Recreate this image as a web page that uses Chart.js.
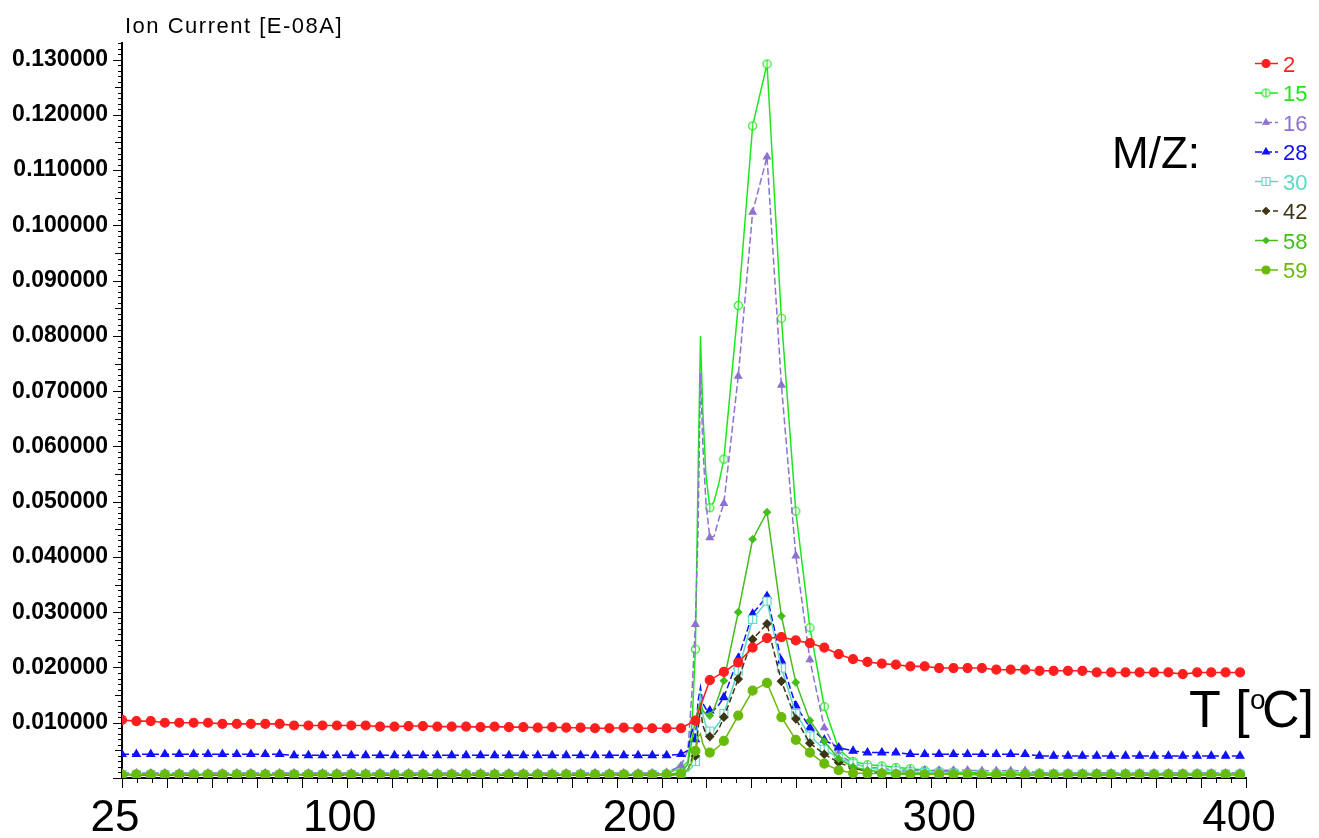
<!DOCTYPE html>
<html>
<head>
<meta charset="utf-8">
<title>Ion Current vs T</title>
<script src="https://cdn.jsdelivr.net/npm/chart.js@4.4.0/dist/chart.umd.min.js"></script>
<style>
  html, body { margin: 0; padding: 0; background: #fff; }
  canvas { display: block; }
</style>
</head>
<body>
<canvas id="msChart" width="1319" height="838"></canvas>
<script>
// temperature of every marked sample, degC
const temps = [25.0, 29.8, 34.6, 39.3, 44.1, 48.9, 53.7, 58.5, 63.3, 68.0,
  72.8, 77.6, 82.4, 87.2, 91.9, 96.7, 101.5, 106.3, 111.1, 115.9,
  120.6, 125.4, 130.2, 135.0, 139.8, 144.6, 149.3, 154.1, 158.9, 163.7,
  168.5, 173.2, 178.0, 182.8, 187.6, 192.4, 197.2, 201.9, 206.7, 211.5,
  216.3, 221.1, 225.8, 230.6, 235.4, 240.2, 245.0, 249.8, 254.5, 259.3,
  264.1, 268.9, 273.7, 278.5, 283.2, 288.0, 292.8, 297.6, 302.4, 307.1,
  311.9, 316.7, 321.5, 326.3, 331.1, 335.8, 340.6, 345.4, 350.2, 355.0,
  359.8, 364.5, 369.3, 374.1, 378.9, 383.7, 388.4, 393.2, 398.0];

// extra readings inside the sharp burst (line only, no marker)
const burstTemps = [213.8, 215.2, 217.2, 218.0, 218.8, 219.8, 222.5, 224.2];

const mz2 = [0.0105, 0.0103, 0.0103, 0.0100, 0.0100, 0.0100, 0.0100, 0.0098, 0.0098, 0.0098,
  0.0098, 0.0098, 0.0095, 0.0095, 0.0095, 0.0095, 0.0095, 0.0095, 0.0093, 0.0093,
  0.0094, 0.0094, 0.0093, 0.0093, 0.0093, 0.0092, 0.0093, 0.0092, 0.0092, 0.0091,
  0.0092, 0.0091, 0.0091, 0.0090, 0.0090, 0.0091, 0.0090, 0.0090, 0.0090, 0.0090,
  0.0104, 0.0177, 0.0192, 0.0209, 0.0236, 0.0253, 0.0255, 0.0249, 0.0244, 0.0236,
  0.0224, 0.0215, 0.0210, 0.0207, 0.0205, 0.0202, 0.0202, 0.0199, 0.0199, 0.0199,
  0.0199, 0.0196, 0.0196, 0.0196, 0.0194, 0.0194, 0.0194, 0.0194, 0.0191, 0.0191,
  0.0191, 0.0191, 0.0191, 0.0191, 0.0188, 0.0191, 0.0191, 0.0191, 0.0191];
const mz2Burst = [null, null, null, null, null, null, null, null];

const mz15 = [0.0007, 0.0007, 0.0007, 0.0007, 0.0007, 0.0007, 0.0007, 0.0007, 0.0007, 0.0007,
  0.0007, 0.0007, 0.0007, 0.0007, 0.0007, 0.0007, 0.0007, 0.0007, 0.0007, 0.0007,
  0.0007, 0.0007, 0.0007, 0.0007, 0.0007, 0.0007, 0.0007, 0.0007, 0.0007, 0.0007,
  0.0007, 0.0007, 0.0007, 0.0007, 0.0007, 0.0007, 0.0007, 0.0007, 0.0008, 0.0018,
  0.0233, 0.0489, 0.0577, 0.0855, 0.1180, 0.1292, 0.0832, 0.0483, 0.0272, 0.0129,
  0.0052, 0.0030, 0.0024, 0.0022, 0.0019, 0.0017, 0.0014, 0.0012, 0.0011, 0.0010,
  0.0009, 0.0009, 0.0009, 0.0009, 0.0009, 0.0008, 0.0008, 0.0008, 0.0008, 0.0008,
  0.0008, 0.0008, 0.0008, 0.0008, 0.0008, 0.0008, 0.0008, 0.0008, 0.0008];
const mz15Burst = [0.0030, 0.0100, 0.0550, 0.0800, 0.0660, 0.0550, 0.0500, 0.0535];

const mz16 = [0.0009, 0.0009, 0.0009, 0.0009, 0.0009, 0.0009, 0.0009, 0.0009, 0.0009, 0.0009,
  0.0009, 0.0009, 0.0009, 0.0009, 0.0009, 0.0009, 0.0009, 0.0009, 0.0009, 0.0009,
  0.0009, 0.0009, 0.0009, 0.0009, 0.0009, 0.0009, 0.0009, 0.0009, 0.0009, 0.0009,
  0.0009, 0.0009, 0.0009, 0.0009, 0.0009, 0.0009, 0.0009, 0.0009, 0.0010, 0.0022,
  0.0278, 0.0435, 0.0497, 0.0727, 0.1024, 0.1124, 0.0711, 0.0402, 0.0214, 0.0091,
  0.0043, 0.0026, 0.0020, 0.0017, 0.0015, 0.0014, 0.0014, 0.0014, 0.0014, 0.0014,
  0.0013, 0.0013, 0.0013, 0.0013, 0.0009, 0.0009, 0.0009, 0.0009, 0.0009, 0.0009,
  0.0009, 0.0009, 0.0009, 0.0009, 0.0009, 0.0009, 0.0009, 0.0009, 0.0009];
const mz16Burst = [0.0050, 0.0160, 0.0450, 0.0733, 0.0600, 0.0500, 0.0437, 0.0470];

const mz28 = [0.0043, 0.0043, 0.0043, 0.0043, 0.0043, 0.0043, 0.0043, 0.0043, 0.0043, 0.0043,
  0.0043, 0.0043, 0.0041, 0.0041, 0.0041, 0.0041, 0.0041, 0.0041, 0.0041, 0.0041,
  0.0041, 0.0041, 0.0041, 0.0041, 0.0041, 0.0041, 0.0041, 0.0041, 0.0041, 0.0041,
  0.0041, 0.0041, 0.0041, 0.0041, 0.0041, 0.0041, 0.0041, 0.0041, 0.0041, 0.0043,
  0.0070, 0.0122, 0.0146, 0.0217, 0.0297, 0.0329, 0.0212, 0.0131, 0.0091, 0.0069,
  0.0055, 0.0049, 0.0046, 0.0046, 0.0046, 0.0043, 0.0043, 0.0043, 0.0043, 0.0043,
  0.0043, 0.0043, 0.0043, 0.0043, 0.0040, 0.0040, 0.0040, 0.0040, 0.0040, 0.0040,
  0.0040, 0.0040, 0.0040, 0.0040, 0.0040, 0.0040, 0.0040, 0.0040, 0.0040];
const mz28Burst = [0.0050, 0.0090, 0.0140, 0.0164, 0.0135, 0.0125, 0.0123, 0.0133];

const mz30 = [0.0006, 0.0006, 0.0006, 0.0006, 0.0006, 0.0006, 0.0006, 0.0006, 0.0006, 0.0006,
  0.0006, 0.0006, 0.0006, 0.0006, 0.0006, 0.0006, 0.0006, 0.0006, 0.0006, 0.0006,
  0.0006, 0.0006, 0.0006, 0.0006, 0.0006, 0.0006, 0.0006, 0.0006, 0.0006, 0.0006,
  0.0006, 0.0006, 0.0006, 0.0006, 0.0006, 0.0006, 0.0006, 0.0006, 0.0006, 0.0009,
  0.0030, 0.0085, 0.0117, 0.0194, 0.0287, 0.0320, 0.0199, 0.0117, 0.0076, 0.0052,
  0.0036, 0.0026, 0.0019, 0.0015, 0.0013, 0.0011, 0.0010, 0.0009, 0.0009, 0.0008,
  0.0007, 0.0007, 0.0007, 0.0007, 0.0007, 0.0007, 0.0007, 0.0007, 0.0007, 0.0007,
  0.0007, 0.0007, 0.0007, 0.0007, 0.0007, 0.0007, 0.0007, 0.0007, 0.0007];
const mz30Burst = [0.0012, 0.0020, 0.0110, 0.0150, 0.0115, 0.0095, 0.0088, 0.0100];

const mz42 = [0.0005, 0.0005, 0.0005, 0.0005, 0.0005, 0.0005, 0.0005, 0.0005, 0.0005, 0.0005,
  0.0005, 0.0005, 0.0005, 0.0005, 0.0005, 0.0005, 0.0005, 0.0005, 0.0005, 0.0005,
  0.0005, 0.0005, 0.0005, 0.0005, 0.0005, 0.0005, 0.0005, 0.0005, 0.0005, 0.0005,
  0.0005, 0.0005, 0.0005, 0.0005, 0.0005, 0.0005, 0.0005, 0.0005, 0.0005, 0.0007,
  0.0040, 0.0075, 0.0110, 0.0179, 0.0251, 0.0279, 0.0175, 0.0107, 0.0063, 0.0043,
  0.0028, 0.0018, 0.0012, 0.0010, 0.0008, 0.0008, 0.0007, 0.0007, 0.0007, 0.0007,
  0.0006, 0.0006, 0.0006, 0.0006, 0.0006, 0.0006, 0.0006, 0.0006, 0.0006, 0.0006,
  0.0006, 0.0006, 0.0006, 0.0006, 0.0006, 0.0006, 0.0006, 0.0006, 0.0006];
const mz42Burst = [0.0015, 0.0035, 0.0090, 0.0125, 0.0095, 0.0080, 0.0077, 0.0090];

const mz58 = [0.0006, 0.0006, 0.0006, 0.0006, 0.0006, 0.0006, 0.0006, 0.0006, 0.0006, 0.0006,
  0.0006, 0.0006, 0.0006, 0.0006, 0.0006, 0.0006, 0.0006, 0.0006, 0.0006, 0.0006,
  0.0006, 0.0006, 0.0006, 0.0006, 0.0006, 0.0006, 0.0006, 0.0006, 0.0006, 0.0006,
  0.0006, 0.0006, 0.0006, 0.0006, 0.0006, 0.0006, 0.0006, 0.0006, 0.0006, 0.0010,
  0.0105, 0.0113, 0.0176, 0.0300, 0.0432, 0.0481, 0.0293, 0.0173, 0.0104, 0.0066,
  0.0035, 0.0020, 0.0014, 0.0011, 0.0009, 0.0008, 0.0008, 0.0007, 0.0007, 0.0007,
  0.0006, 0.0006, 0.0006, 0.0006, 0.0006, 0.0006, 0.0006, 0.0006, 0.0006, 0.0006,
  0.0006, 0.0006, 0.0006, 0.0006, 0.0006, 0.0006, 0.0006, 0.0006, 0.0006];
const mz58Burst = [0.0025, 0.0070, 0.0125, 0.0135, 0.0122, 0.0115, 0.0125, 0.0150];

const mz59 = [0.0006, 0.0006, 0.0006, 0.0006, 0.0006, 0.0006, 0.0006, 0.0006, 0.0006, 0.0006,
  0.0006, 0.0006, 0.0006, 0.0006, 0.0006, 0.0006, 0.0006, 0.0006, 0.0006, 0.0006,
  0.0006, 0.0006, 0.0006, 0.0006, 0.0006, 0.0006, 0.0006, 0.0006, 0.0006, 0.0006,
  0.0006, 0.0006, 0.0006, 0.0006, 0.0006, 0.0006, 0.0006, 0.0006, 0.0006, 0.0008,
  0.0049, 0.0046, 0.0067, 0.0113, 0.0158, 0.0172, 0.0110, 0.0069, 0.0046, 0.0026,
  0.0014, 0.0009, 0.0008, 0.0008, 0.0007, 0.0007, 0.0007, 0.0007, 0.0007, 0.0007,
  0.0006, 0.0006, 0.0006, 0.0006, 0.0006, 0.0006, 0.0006, 0.0006, 0.0006, 0.0006,
  0.0006, 0.0006, 0.0006, 0.0006, 0.0006, 0.0006, 0.0006, 0.0006, 0.0006];
const mz59Burst = [0.0015, 0.0030, 0.0075, 0.0080, 0.0062, 0.0050, 0.0050, 0.0058];

const xLabels = [25, 100, 200, 300, 400];
const yLabels = [0.01, 0.02, 0.03, 0.04, 0.05, 0.06, 0.07, 0.08, 0.09, 0.10, 0.11, 0.12, 0.13];

const FONT = '"Liberation Sans", Arial, sans-serif';

// small open markers with a bar through them
function barredMarker(color, square) {
  const c = document.createElement('canvas');
  c.width = 11; c.height = 11;
  const g = c.getContext('2d');
  g.fillStyle = '#fff';
  g.strokeStyle = color;
  g.lineWidth = 1.2;
  g.beginPath();
  if (square) g.rect(1.5, 1.5, 8, 8);
  else g.arc(5.5, 5.5, 4, 0, Math.PI * 2);
  g.fill();
  g.stroke();
  g.beginPath();
  g.moveTo(5.5, square ? 2 : 1);
  g.lineTo(5.5, square ? 9 : 10);
  g.stroke();
  return c;
}

// draw: lower value = painted later (on top)
const series = [
  { label: '2',  values: mz2,  burst: mz2Burst,  color: '#ff1e1e', fill: '#ff1e1e', point: 'circle', radius: 4.5, width: 1.6, dash: [], draw: 0 },
  { label: '15', values: mz15, burst: mz15Burst, color: '#1ee61e', fill: '#fff', point: barredMarker('#1ee61e', false), radius: 4.5, width: 1.5, dash: [], draw: 7 },
  { label: '16', values: mz16, burst: mz16Burst, color: '#8e72d0', fill: '#8e72d0', point: 'triangle', radius: 4, width: 1.5, dash: [7, 3], draw: 6 },
  { label: '28', values: mz28, burst: mz28Burst, color: '#1010ff', fill: '#1010ff', point: 'triangle', radius: 4.5, width: 1.5, dash: [7, 3], draw: 5 },
  { label: '30', values: mz30, burst: mz30Burst, color: '#5cd8c4', fill: '#fff', point: barredMarker('#5cd8c4', true), radius: 4.5, width: 1.5, dash: [], draw: 4 },
  { label: '42', values: mz42, burst: mz42Burst, color: '#3f3515', fill: '#3f3515', point: 'rectRot', radius: 4, width: 1.5, dash: [6, 3], draw: 3 },
  { label: '58', values: mz58, burst: mz58Burst, color: '#44bd1e', fill: '#44bd1e', point: 'rectRot', radius: 3.5, width: 1.5, dash: [], draw: 2 },
  { label: '59', values: mz59, burst: mz59Burst, color: '#6aba0a', fill: '#6aba0a', point: 'circle', radius: 4.5, width: 1.5, dash: [], draw: 1 }
];

function buildPoints(values, burst) {
  const pts = temps.map((t, i) => ({ x: t, y: values[i], marked: true }));
  burstTemps.forEach((t, j) => pts.push({ x: t, y: burst[j], marked: false }));
  return pts.sort((a, b) => a.x - b.x);
}

// minor/major tick marks on both axes
const axisTicks = {
  id: 'axisTicks',
  afterDraw(chart) {
    const { ctx, chartArea } = chart;
    const x = chart.scales.x, y = chart.scales.y;
    ctx.save();
    ctx.strokeStyle = '#000';
    ctx.lineWidth = 1;
    ctx.beginPath();
    for (let t = 25; t <= 400; t += 5) {
      const px = Math.round(x.getPixelForValue(t)) + 0.5;
      const len = (t - 25) % 15 === 0 ? 10 : 5;
      ctx.moveTo(px, chartArea.bottom);
      ctx.lineTo(px, chartArea.bottom + len);
    }
    for (let k = 0; k <= 133; k++) {
      const py = Math.round(y.getPixelForValue(k / 1000)) + 0.5;
      const len = k % 10 === 0 ? 9 : (k % 5 === 0 ? 7 : 4);
      ctx.moveTo(chartArea.left - len, py);
      ctx.lineTo(chartArea.left, py);
    }
    ctx.stroke();
    ctx.restore();
  }
};

// axis captions and the m/z key on the right
const captions = {
  id: 'captions',
  afterDraw(chart) {
    const ctx = chart.ctx;
    ctx.save();
    ctx.fillStyle = '#000';
    ctx.textBaseline = 'alphabetic';
    ctx.textAlign = 'left';

    ctx.font = '22px ' + FONT;
    ctx.letterSpacing = '1.5px';
    ctx.fillText('Ion Current [E-08A]', 125, 33);
    ctx.letterSpacing = '0px';

    ctx.font = '44px ' + FONT;
    ctx.fillText('M/Z:', 1112, 168);

    ctx.font = '52px ' + FONT;
    ctx.fillText('T [', 1189, 727);
    ctx.font = '28px ' + FONT;
    ctx.fillText('o', 1250, 709);
    ctx.font = '52px ' + FONT;
    ctx.fillText('C]', 1262, 727);

    ctx.font = '22px ' + FONT;
    series.forEach((s, i) => {
      const cy = 63.5 + i * 29.5;
      ctx.strokeStyle = s.color;
      ctx.lineWidth = 1.5;
      ctx.setLineDash(s.dash);
      ctx.beginPath();
      ctx.moveTo(1255, cy);
      ctx.lineTo(1278, cy);
      ctx.stroke();
      ctx.setLineDash([]);
      ctx.fillStyle = s.fill;
      ctx.strokeStyle = s.color;
      ctx.lineWidth = 1.2;
      Chart.helpers.drawPoint(ctx, { pointStyle: s.point, radius: s.radius - 0.5, borderWidth: 1.2, rotation: 0 }, 1266, cy);
      ctx.fillStyle = s.color;
      ctx.fillText(s.label, 1283, cy + 8);
    });
    ctx.restore();
  }
};

new Chart(document.getElementById('msChart'), {
  type: 'line',
  data: {
    datasets: series.map(s => ({
      label: s.label,
      order: s.draw,
      data: buildPoints(s.values, s.burst),
      borderColor: s.color,
      backgroundColor: s.fill,
      borderWidth: s.width,
      borderDash: s.dash,
      pointStyle: s.point,
      pointRadius: ctx => (ctx.raw && ctx.raw.marked ? s.radius : 0),
      pointBorderColor: s.color,
      pointBackgroundColor: s.fill,
      pointBorderWidth: 1.2,
      spanGaps: true,
      tension: 0,
      fill: false
    }))
  },
  options: {
    responsive: false,
    animation: false,
    devicePixelRatio: 1,
    layout: { padding: { top: 43, right: 73, left: 0, bottom: 0 } },
    plugins: { legend: { display: false }, tooltip: { enabled: false } },
    scales: {
      x: {
        type: 'linear',
        min: 25,
        max: 400,
        afterBuildTicks: s => { s.ticks = xLabels.map(v => ({ value: v })); },
        afterFit: s => { s.height = 60; },
        grid: { display: false, drawTicks: false },
        border: { display: true, color: '#000', width: 2 },
        ticks: {
          color: '#000',
          font: { family: FONT, size: 44 },
          padding: 14,
          labelOffset: -7,
          maxRotation: 0,
          autoSkip: false
        }
      },
      y: {
        min: 0,
        max: 0.133,
        afterBuildTicks: s => { s.ticks = yLabels.map(v => ({ value: v })); },
        afterFit: s => { s.width = 122; },
        grid: { display: false, drawTicks: false },
        border: { display: true, color: '#000', width: 2 },
        ticks: {
          color: '#000',
          font: { family: FONT, size: 23, weight: 'bold' },
          padding: 14,
          callback: v => v.toFixed(6)
        }
      }
    }
  },
  plugins: [axisTicks, captions]
});
</script>
</body>
</html>
